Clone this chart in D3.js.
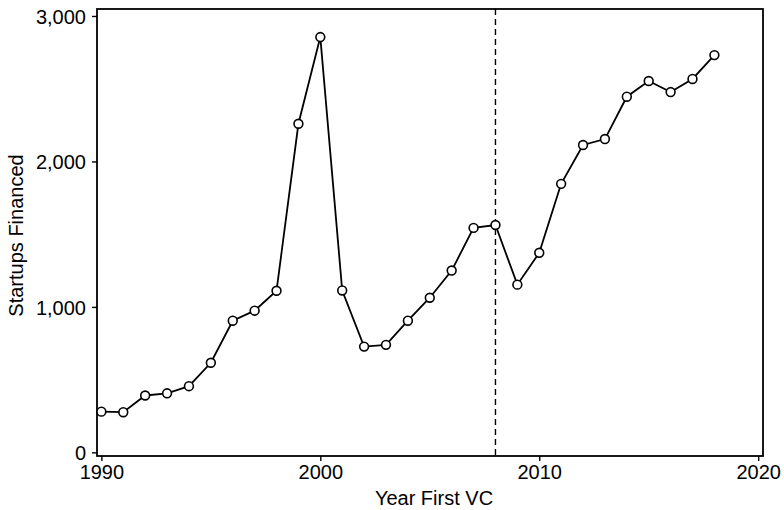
<!DOCTYPE html>
<html>
<head>
<meta charset="utf-8">
<script src="https://cdn.jsdelivr.net/npm/d3@7"></script>
<style>
  body { margin: 0; background: #fff; }
  text { font-family: "Liberation Sans", Arial, sans-serif; }
</style>
</head>
<body>
<script>
var years = [1990, 1991, 1992, 1993, 1994, 1995, 1996, 1997, 1998, 1999,
             2000, 2001, 2002, 2003, 2004, 2005, 2006, 2007, 2008, 2009,
             2010, 2011, 2012, 2013, 2014, 2015, 2016, 2017, 2018];
var startups = [280, 276, 391, 406, 455, 616, 905, 974, 1111, 2259,
                2855, 1113, 727, 739, 905, 1063, 1250, 1543, 1563, 1153,
                1372, 1846, 2113, 2154, 2445, 2553, 2477, 2567, 2731];
var xTicks = [1990, 2000, 2010, 2020];
var yTicks = [0, 1000, 2000, 3000];
var markerYear = 2008;

var margin = {top: 9, right: 21, bottom: 54, left: 97},
    width = 784 - margin.left - margin.right,
    height = 510 - margin.top - margin.bottom;

var x = d3.scaleLinear()
          .domain([1989.8, 2020.22])
          .range([0, width]);
var y = d3.scaleLinear()
          .domain([-25, 3048])
          .range([height, 0]);

var svg = d3.select("body").append("svg")
    .attr("width", 784)
    .attr("height", 510)
  .append("g")
    .attr("transform", "translate(" + margin.left + "," + margin.top + ")");

// x axis
var xAxis = svg.append("g")
    .attr("transform", "translate(0," + height + ")")
    .call(d3.axisBottom(x).tickValues(xTicks).tickFormat(d3.format("d"))
          .tickSize(5).tickPadding(4));

// y axis
var yAxis = svg.append("g")
    .call(d3.axisLeft(y).tickValues(yTicks).tickFormat(d3.format(","))
          .tickSize(5).tickPadding(6));

[xAxis, yAxis].forEach(function(a) {
  a.select(".domain").remove();
  a.selectAll("line").attr("stroke", "#000").attr("stroke-width", 1.4);
  a.selectAll("text").style("font-size", "20px").attr("fill", "#000")
   .style("font-family", "'Liberation Sans', Arial, sans-serif");
});
yAxis.selectAll("text").attr("dy", "0.36em");

// frame
svg.append("rect")
    .attr("width", width)
    .attr("height", height)
    .attr("fill", "none")
    .attr("stroke", "#000")
    .attr("stroke-width", 1.8);

// dashed line at 2008
svg.append("line")
    .attr("x1", x(markerYear)).attr("x2", x(markerYear))
    .attr("y1", 0).attr("y2", height)
    .attr("stroke", "#000")
    .attr("stroke-width", 1.4)
    .attr("stroke-dasharray", "6,4");

var data = years.map(function(d, i) { return {year: d, value: startups[i]}; });

svg.append("path")
    .datum(data)
    .attr("fill", "none")
    .attr("stroke", "#000")
    .attr("stroke-width", 1.8)
    .attr("d", d3.line()
        .x(function(d) { return x(d.year); })
        .y(function(d) { return y(d.value); }));

svg.selectAll(".dot")
    .data(data)
  .enter().append("circle")
    .attr("class", "dot")
    .attr("cx", function(d) { return x(d.year); })
    .attr("cy", function(d) { return y(d.value); })
    .attr("r", 4.4)
    .attr("fill", "#fff")
    .attr("stroke", "#000")
    .attr("stroke-width", 1.6);

// axis titles
svg.append("text")
    .attr("x", width / 2 + 4)
    .attr("y", height + 49)
    .attr("text-anchor", "middle")
    .style("font-size", "20px")
    .text("Year First VC");

svg.append("text")
    .attr("transform", "rotate(-90)")
    .attr("x", -height / 2 - 3)
    .attr("y", -74)
    .attr("text-anchor", "middle")
    .style("font-size", "20px")
    .text("Startups Financed");
</script>
</body>
</html>
